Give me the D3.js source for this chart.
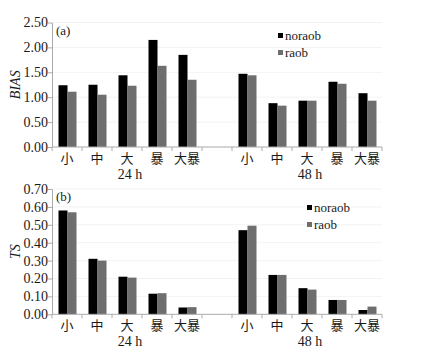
<!DOCTYPE html>
<html>
<head>
<meta charset="utf-8">
<script src="https://cdn.jsdelivr.net/npm/d3@7"></script>
<style>
    body { margin: 0; background: #fff; }
</style>
</head>
<body>
<div id="chart"></div>
<script>
// Categories (group 24 h, gap, group 48 h)
const categories = ["小", "中", "大", "暴", "大暴"];
const groups = ["24 h", "48 h"];
const seriesNames = ["noraob", "raob"];

// BIAS values
const biasNoraob24 = [1.24, 1.25, 1.44, 2.15, 1.85];
const biasRaob24 = [1.11, 1.05, 1.23, 1.63, 1.35];
const biasNoraob48 = [1.47, 0.88, 0.93, 1.31, 1.08];
const biasRaob48 = [1.44, 0.83, 0.93, 1.27, 0.93];

// TS values
const tsNoraob24 = [0.58, 0.31, 0.21, 0.115, 0.038];
const tsRaob24 = [0.57, 0.30, 0.205, 0.118, 0.04];
const tsNoraob48 = [0.47, 0.22, 0.146, 0.08, 0.024];
const tsRaob48 = [0.495, 0.22, 0.138, 0.08, 0.043];

const biasTicks = [0, 0.5, 1.0, 1.5, 2.0, 2.5];
const tsTicks = [0, 0.1, 0.2, 0.3, 0.4, 0.5, 0.6, 0.7];

const colors = { noraob: "#000000", raob: "#6e6e6e" };
const SERIF = "'Liberation Serif', 'Times New Roman', serif";
const CJK = "'Noto Sans CJK SC', sans-serif";

const svg = d3.select("#chart")
    .append("svg")
    .attr("width", 430)
    .attr("height", 354);

// slot keys: 5 categories, an empty slot, 5 categories
const slots = [
    ...categories.map(c => "24|" + c),
    "gap",
    ...categories.map(c => "48|" + c)
];

const x = d3.scaleBand()
    .domain(slots)
    .range([52, 382])
    .paddingInner(0)
    .paddingOuter(0);

const xSub = d3.scaleBand()
    .domain(seriesNames)
    .range([6.5, x.bandwidth() - 5.5]);

function panel(opts) {
    const { top, bottom, max, ticks, label, tag, n24, r24, n48, r48, legendX, legendY } = opts;

    const y = d3.scaleLinear()
        .domain([0, max])
        .range([bottom, top]);

    const g = svg.append("g");

    // faint gridlines
    g.selectAll(".grid")
        .data(ticks.slice(1))
        .join("line")
        .attr("x1", 52).attr("x2", 382)
        .attr("y1", d => y(d)).attr("y2", d => y(d))
        .attr("stroke", "#f3f3f3")
        .attr("stroke-width", 1);

    // data rows
    const rows = [];
    categories.forEach((c, i) => {
        rows.push({ slot: "24|" + c, s: "noraob", v: n24[i] });
        rows.push({ slot: "24|" + c, s: "raob", v: r24[i] });
        rows.push({ slot: "48|" + c, s: "noraob", v: n48[i] });
        rows.push({ slot: "48|" + c, s: "raob", v: r48[i] });
    });

    g.selectAll(".bar")
        .data(rows)
        .join("rect")
        .attr("x", d => x(d.slot) + xSub(d.s))
        .attr("width", xSub.bandwidth())
        .attr("y", d => y(d.v))
        .attr("height", d => y(0) - y(d.v))
        .attr("fill", d => colors[d.s]);

    // Y axis
    const yAxis = g.append("g")
        .attr("transform", "translate(52,0)")
        .call(d3.axisLeft(y).tickValues(ticks).tickFormat(d3.format(".2f")).tickSize(4).tickSizeOuter(0));
    yAxis.attr("font-family", null);
    yAxis.select(".domain").attr("stroke", "#aaa");
    yAxis.selectAll(".tick line").attr("stroke", "#aaa");
    yAxis.selectAll(".tick text")
        .attr("x", -4)
        .style("font-size", "14px")
        .style("font-family", SERIF)
        .attr("fill", "#1a1a1a");

    // X axis with ticks at band boundaries
    const xAxis = g.append("g")
        .attr("transform", `translate(0,${bottom})`);
    xAxis.append("line")
        .attr("x1", 52).attr("x2", 382)
        .attr("stroke", "#aaa");
    const edges = slots.map(s => x(s)).concat([x(slots[slots.length - 1]) + x.bandwidth()]);
    xAxis.selectAll(".xt")
        .data(edges)
        .join("line")
        .attr("x1", d => d).attr("x2", d => d)
        .attr("y1", 0).attr("y2", 4)
        .attr("stroke", "#aaa");
    xAxis.selectAll(".xl")
        .data(slots.filter(s => s !== "gap"))
        .join("text")
        .attr("x", d => x(d) + x.bandwidth() / 2)
        .attr("y", 16)
        .attr("text-anchor", "middle")
        .attr("fill", "#1a1a1a")
        .style("font-family", CJK)
        .style("font-size", "13px")
        .text(d => d.split("|")[1]);

    // group labels
    const g24 = [x("24|" + categories[0]), x("24|" + categories[4]) + x.bandwidth()];
    const g48 = [x("48|" + categories[0]), x("48|" + categories[4]) + x.bandwidth()];
    [g24, g48].forEach((r, i) => {
        g.append("text")
            .attr("x", (r[0] + r[1]) / 2 + 3)
            .attr("y", bottom + 32)
            .attr("text-anchor", "middle")
            .attr("fill", "#1a1a1a")
            .style("font-family", SERIF)
            .style("font-size", "14px")
            .text(groups[i]);
    });

    // Y label
    g.append("text")
        .attr("transform", `translate(20,${(top + bottom) / 2}) rotate(-90)`)
        .attr("text-anchor", "middle")
        .attr("fill", "#1a1a1a")
        .style("font-family", SERIF)
        .style("font-size", "14px")
        .style("font-style", "italic")
        .text(label);

    // panel tag
    g.append("text")
        .attr("x", 56)
        .attr("y", top + 12)
        .attr("fill", "#1a1a1a")
        .style("font-family", SERIF)
        .style("font-size", "13px")
        .text(tag);

    // legend
    seriesNames.forEach((s, i) => {
        const ly = legendY + i * 17;
        g.append("rect")
            .attr("x", legendX)
            .attr("y", ly - 4)
            .attr("width", 5)
            .attr("height", 5)
            .attr("fill", colors[s]);
        g.append("text")
            .attr("x", legendX + 7)
            .attr("y", ly + 3)
            .attr("fill", "#1a1a1a")
            .style("font-family", SERIF)
            .style("font-size", "13px")
            .text(s);
    });
}

panel({
    top: 22.5, bottom: 147, max: 2.5, ticks: biasTicks, label: "BIAS", tag: "(a)",
    n24: biasNoraob24, r24: biasRaob24, n48: biasNoraob48, r48: biasRaob48,
    legendX: 278, legendY: 37
});

panel({
    top: 189, bottom: 314.3, max: 0.7, ticks: tsTicks, label: "TS", tag: "(b)",
    n24: tsNoraob24, r24: tsRaob24, n48: tsNoraob48, r48: tsRaob48,
    legendX: 307, legendY: 209
});
</script>
</body>
</html>
